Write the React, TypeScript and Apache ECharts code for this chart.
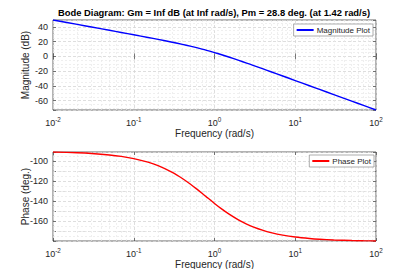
import React, { useEffect, useRef } from "react";
import * as echarts from "echarts";

const TITLE = "Bode Diagram: Gm = Inf dB (at Inf rad/s), Pm = 28.8 deg. (at 1.42 rad/s)";
const freq = [0.01, 0.02, 0.03, 0.05, 0.07, 0.1, 0.15, 0.2, 0.3, 0.4, 0.5, 0.6, 0.7, 0.8, 1, 1.2, 1.5, 2, 2.5, 3, 4, 5, 7, 10, 15, 20, 30, 50, 70, 100];
const magnitude = [49.39, 43.37, 39.85, 35.4, 32.46, 29.32, 25.71, 23.1, 19.25, 16.34, 13.92, 11.81, 9.93, 8.21, 5.17, 2.54, -0.85, -5.42, -9.09, -12.13, -17.01, -20.83, -26.62, -32.79, -39.82, -44.81, -51.85, -60.72, -66.57, -72.77];
const phase = [-90.73, -91.47, -92.2, -93.67, -95.13, -97.31, -100.89, -104.38, -111.04, -117.15, -122.66, -127.57, -131.9, -135.73, -142.05, -146.98, -152.53, -158.69, -162.67, -165.43, -168.97, -171.13, -173.64, -175.54, -177.02, -177.77, -178.51, -179.11, -179.36, -179.55];
const magRange = [-72.77, 49.39];
const phaseRange = [-179.55, -90.73];
const freqRange = [0.01, 100];
const decades = [0.01, 0.1, 1, 10];
const mantissas = [2, 3, 4, 5, 6, 7, 8, 9];

const FONT = "Liberation Sans, Arial, Helvetica, sans-serif";
const AX = "#262626";

export default function App() {
  const ref = useRef<HTMLDivElement>(null);
  useEffect(() => {
    const chart = echarts.init(ref.current!, null, { renderer: "svg" });
    const minorX: any[] = [];
    decades.forEach((d) => mantissas.forEach((m) => minorX.push({ xAxis: +(d * m).toPrecision(3) })));
    const minorY = (r: number[]) => {
      const out: any[] = [];
      for (let v = Math.ceil(r[0] / 5) * 5; v <= r[1]; v += 5) {
        if (v % 20 !== 0) out.push({ yAxis: v });
      }
      return out;
    };
    const mk = (r: number[]) => ({
      silent: true,
      z: 1,
      symbol: ["none", "none"],
      label: { show: false },
      animation: false,
      lineStyle: { color: "#e8e8e8", type: [2, 2], width: 0.7 },
      data: [...minorX, ...minorY(r)],
    });
    const xBase = (gi: number) => ({
      type: "log",
      logBase: 10,
      gridIndex: gi,
      min: freqRange[0],
      max: freqRange[1],
      axisLine: { show: false },
      axisTick: { show: true, inside: true, length: 3, lineStyle: { color: AX, width: 0.6 } },
      splitLine: { show: true, lineStyle: { color: "#d6d6d6", width: 0.8, type: [3, 2] } },
      axisLabel: {
        color: AX,
        fontFamily: FONT,
        margin: 6,
        formatter: (v: number) => `{b|10}{s|${Math.round(Math.log10(v))}}`,
        rich: {
          b: { fontSize: 9, fontFamily: FONT, color: AX },
          s: { fontSize: 6.3, fontFamily: FONT, color: AX, padding: [0, 0, 7, 0] },
        },
      },
      name: "Frequency (rad/s)",
      nameLocation: "middle",
      nameGap: 18,
      nameMoveOverlap: false,
      nameTextStyle: { fontSize: 10, fontFamily: FONT, color: AX },
    });
    const xTop = (gi: number) => ({
      type: "log",
      logBase: 10,
      gridIndex: gi,
      position: "top",
      min: freqRange[0],
      max: freqRange[1],
      axisLine: { show: false },
      axisTick: { show: true, inside: true, length: 3, lineStyle: { color: AX, width: 0.6 } },
      splitLine: { show: false },
      axisLabel: { show: false },
    });
    const yBase = (gi: number, r: number[], name: string) => ({
      type: "value",
      gridIndex: gi,
      min: r[0],
      max: r[1],
      splitNumber: 6,
      axisLine: { show: false },
      axisTick: { show: true, inside: true, length: 3, lineStyle: { color: AX, width: 0.6 } },
      splitLine: { show: true, lineStyle: { color: "#d6d6d6", width: 0.8, type: [3, 2] } },
      axisLabel: {
        color: AX,
        fontSize: 9,
        fontFamily: FONT,
        margin: 5,
        formatter: (v: number) => (Math.abs(v % 20) < 1e-6 ? String(Math.round(v)) : ""),
      },
      name,
      nameLocation: "middle",
      nameGap: 23,
      nameMoveOverlap: false,
      nameTextStyle: { fontSize: 10, fontFamily: FONT, color: AX },
    });
    const yRight = (gi: number, r: number[]) => ({
      type: "value",
      gridIndex: gi,
      position: "right",
      min: r[0],
      max: r[1],
      splitNumber: 6,
      axisLine: { show: false },
      axisTick: { show: true, inside: true, length: 3, lineStyle: { color: AX, width: 0.6 } },
      splitLine: { show: false },
      axisLabel: { show: false },
    });
    const legendCommon = {
      orient: "vertical",
      z: 20,
      backgroundColor: "#ffffff",
      borderColor: "#8a8a8a",
      borderWidth: 0.7,
      borderRadius: 0,
      padding: [2, 3, 2, 3],
      itemWidth: 17,
      itemHeight: 2,
      itemGap: 2,
      icon: "rect",
      itemStyle: { borderWidth: 0 },
      lineStyle: { width: 0 },
      textStyle: { fontSize: 8, fontFamily: FONT, color: AX, padding: [0, 0, 0, -2] },
    };
    chart.setOption({
      animation: false,
      backgroundColor: "#ffffff",
      title: {
        text: TITLE,
        left: 214,
        textAlign: "center",
        top: 8,
        padding: 0,
        textStyle: { fontSize: 9.4, fontWeight: "bold", fontFamily: FONT, color: "#000000" },
      },
      legend: [
        { ...legendCommon, data: ["Magnitude Plot"], right: 42, top: 24 },
        { ...legendCommon, data: ["Phase Plot"], right: 41, top: 155 },
      ],
      grid: [
        { left: 53, right: 39, top: 20, height: 90, show: true, borderColor: AX, borderWidth: 0.7, backgroundColor: "#ffffff" },
        { left: 53, right: 39, top: 152, height: 89, show: true, borderColor: AX, borderWidth: 0.7, backgroundColor: "#ffffff" },
      ],
      xAxis: [xBase(0), xBase(1), xTop(0), xTop(1)],
      yAxis: [yBase(0, magRange, "Magnitude (dB)"), yBase(1, phaseRange, "Phase (deg.)"), yRight(0, magRange), yRight(1, phaseRange)],
      series: [
        {
          name: "Magnitude Plot",
          type: "line",
          z: 3,
          xAxisIndex: 0,
          yAxisIndex: 0,
          data: freq.map((f, i) => [f, magnitude[i]]),
          showSymbol: false,
          symbol: "none",
          smooth: 0.3,
          lineStyle: { color: "#0000ff", width: 1.4, type: "solid" },
          itemStyle: { color: "#0000ff" },
          markLine: mk(magRange),
        },
        {
          name: "Phase Plot",
          type: "line",
          z: 3,
          xAxisIndex: 1,
          yAxisIndex: 1,
          data: freq.map((f, i) => [f, phase[i]]),
          showSymbol: false,
          symbol: "none",
          smooth: 0.3,
          lineStyle: { color: "#ff0000", width: 1.4, type: "solid" },
          itemStyle: { color: "#ff0000" },
          markLine: mk(phaseRange),
        },
      ],
    });
    return () => chart.dispose();
  }, []);
  return <div ref={ref} style={{ width: 415, height: 277, margin: -8 }} />;
}
